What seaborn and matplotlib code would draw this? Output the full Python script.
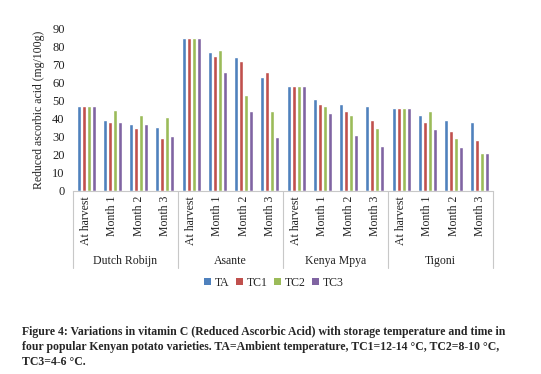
import matplotlib
matplotlib.use("Agg")
import matplotlib.pyplot as plt
import matplotlib.transforms as mtransforms
from matplotlib.patches import Patch
import seaborn as sns
import pandas as pd

varieties = ["Dutch Robijn", "Asante", "Kenya Mpya", "Tigoni"]
periods = ["At harvest", "Month 1", "Month 2", "Month 3"]
treatments = ["TA", "TC1", "TC2", "TC3"]

# values per variety x period (Dutch Robijn, Asante, Kenya Mpya, Tigoni)
ta  = [47.2, 39.4, 37.2, 35.5,  84.8, 76.7, 74.4, 62.8,  58.3, 50.6, 47.8, 46.7,  45.6, 41.7, 38.9, 37.8]
tc1 = [47.2, 38.1, 34.6, 29.0,  84.8, 75.0, 71.7, 66.1,  58.3, 47.8, 44.4, 39.4,  45.6, 37.8, 33.3, 27.8]
tc2 = [47.2, 44.6, 42.2, 41.1,  84.8, 77.8, 53.3, 44.4,  58.3, 47.2, 42.2, 35.0,  45.6, 44.4, 29.4, 20.6]
tc3 = [47.2, 37.8, 37.2, 30.5,  84.8, 66.1, 43.9, 30.0,  58.3, 43.3, 31.1, 25.0,  45.6, 34.4, 24.4, 20.6]

colors = ["#4F81BD", "#C0504D", "#9BBB59", "#8064A2"]

caption_lines = [
    "Figure 4: Variations in vitamin C (Reduced Ascorbic Acid) with storage temperature and time in",
    "four popular Kenyan potato varieties. TA=Ambient temperature, TC1=12-14 \u00b0C, TC2=8-10 \u00b0C,",
    "TC3=4-6 \u00b0C.",
]

slots = [f"{v}|{p}" for v in varieties for p in periods]
rows = []
for name, vals in zip(treatments, [ta, tc1, tc2, tc3]):
    for s, val in zip(slots, vals):
        rows.append({"slot": s, "value": val, "treatment": name})
df = pd.DataFrame(rows)

sns.set_style("white")
plt.rcParams["font.family"] = ["Liberation Serif", "DejaVu Serif"]

W, H = 541, 374
fig = plt.figure(figsize=(W / 100, H / 100), dpi=100)
ax = fig.add_axes([73 / W, 1 - 190.5 / H, (493 - 73) / W, 162 / H])

sns.barplot(data=df, x="slot", y="value", hue="treatment", order=slots,
            hue_order=treatments, palette=colors, saturation=1, width=0.76,
            ax=ax, legend=False)

# leave a thin gap between neighbouring bars
for p in ax.patches:
    w = p.get_width()
    cx = p.get_x() + w / 2
    nw = w * 0.8
    p.set_width(nw)
    p.set_x(cx - nw / 2)

ax.set_ylim(0, 90)
ax.set_xlim(-0.5, len(slots) - 0.5)
ax.set_yticks(range(0, 91, 10))
ax.tick_params(axis="y", length=0, labelsize=9, pad=6, labelcolor="#222222")
ax.set_xticks(range(len(slots)))
ax.set_xticklabels(periods * len(varieties), rotation=90, fontsize=8.5, color="#222222")
ax.tick_params(axis="x", length=0, pad=4)
ax.set_xlabel("")
ax.set_ylabel("Reduced ascorbic acid (mg/100g)", fontsize=8.5, labelpad=5, color="#222222")

for sp in ["left", "right", "top"]:
    ax.spines[sp].set_visible(False)
ax.spines["bottom"].set_color("#C8C8C8")
ax.spines["bottom"].set_linewidth(0.8)
ax.grid(False)

trans = mtransforms.blended_transform_factory(ax.transData, ax.transAxes)
for i in range(len(varieties) + 1):
    xs = i * 4 - 0.5
    ax.plot([xs, xs], [0, -0.478], transform=trans, color="#C8C8C8", lw=0.8, clip_on=False)
for i, v in enumerate(varieties):
    ax.text(i * 4 + 1.5, -0.435, v, transform=trans, ha="center", va="center",
            fontsize=8.5, color="#222222")

handles = [Patch(facecolor=c, edgecolor="none") for c in colors]
fig.legend(handles, treatments, loc="center", bbox_to_anchor=(274 / W, 1 - 283 / H),
           ncol=4, frameon=False, fontsize=8.5, handlelength=0.55, handleheight=0.55,
           handletextpad=0.35, columnspacing=0.55)

# caption: size chosen so the first line spans the same width as the reference
fig.canvas.draw()
renderer = fig.canvas.get_renderer()
x_left, x_right = 22, 505
base_fs = 8.3
probe = fig.text(0, 0, caption_lines[0], fontsize=base_fs, fontweight="bold")
pw = probe.get_window_extent(renderer).width
probe.remove()
fs = min(base_fs * (x_right - x_left) / pw, 9.0)
baselines = [335.0, 350.0, 365.0]
for line, yb in zip(caption_lines, baselines):
    fig.text(x_left / W, 1 - yb / H, line, fontsize=fs, fontweight="bold",
             va="baseline", ha="left")

fig.savefig("out.png", dpi=100)
